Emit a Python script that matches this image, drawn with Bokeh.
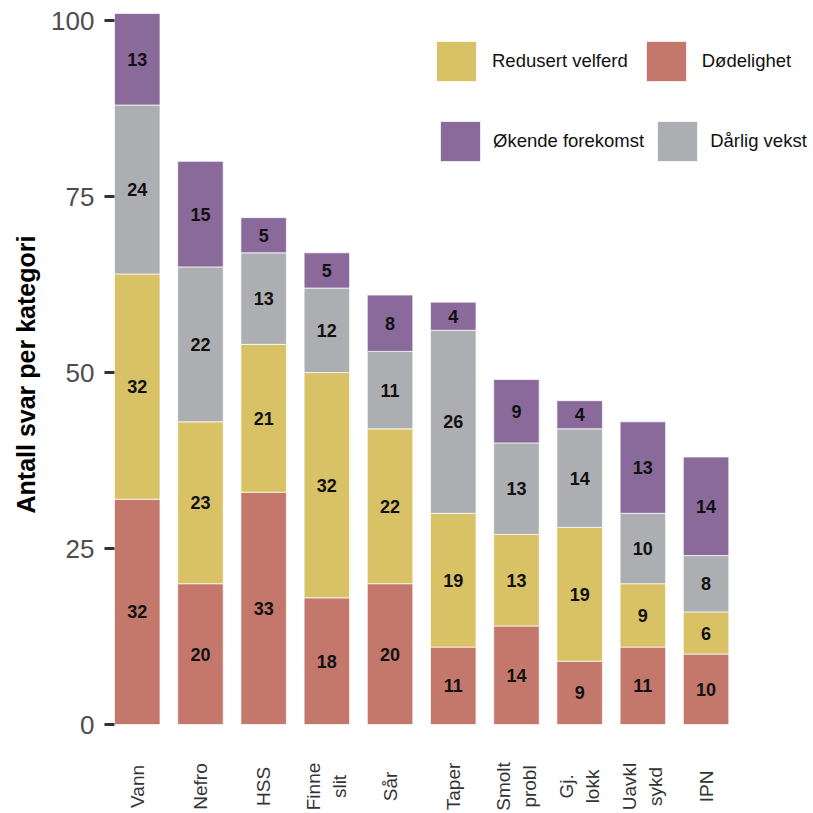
import numpy as np
from bokeh.plotting import figure
from bokeh.models import ColumnDataSource, Range1d, FixedTicker, Legend, LegendItem, Title
from bokeh.embed import file_html
from bokeh.resources import INLINE
from bokeh.core.properties import value

categories = ["Vann", "Nefro", "HSS", "Finne\nslit", "Sår", "Taper",
              "Smolt\nprobl", "Gj.\nlokk", "Uavkl\nsykd", "IPN"]
dodelighet = [32, 20, 33, 18, 20, 11, 14, 9, 11, 10]
redusert_velferd = [32, 23, 21, 32, 22, 19, 13, 19, 9, 6]
darlig_vekst = [24, 22, 13, 12, 11, 26, 13, 14, 10, 8]
okende_forekomst = [13, 15, 5, 5, 8, 4, 9, 4, 13, 14]
y_ticks = [0, 25, 50, 75, 100]
y_title = "Antall svar per kategori"

series_names = ["Dødelighet", "Redusert velferd", "Dårlig vekst", "Økende forekomst"]
series_keys = ["d", "r", "g", "o"]
series_vals = [dodelighet, redusert_velferd, darlig_vekst, okende_forekomst]
colors = ["#C4786C", "#D9C266", "#ADAEB2", "#896A9B"]

FONT = "Liberation Sans"
x = list(range(1, len(categories) + 1))
data = {"x": x}
for k, v in zip(series_keys, series_vals):
    data[k] = v
src = ColumnDataSource(data)

p = figure(width=813, height=813, output_backend="svg", toolbar_location=None,
           x_range=Range1d(0.64, 11.70), y_range=Range1d(-12.64, 101),
           min_border_left=114, min_border_right=0, min_border_top=13,
           min_border_bottom=0)
p.outline_line_color = None
p.grid.visible = False
p.background_fill_color = "white"
p.xaxis.visible = False

rs = p.vbar_stack(series_keys, x="x", width=0.72, source=src, color=colors,
                  line_color="white", line_alpha=0.7, line_width=1)

# segment labels
tx, ty, tt = [], [], []
cum = np.zeros(len(categories))
for v in series_vals:
    arr = np.array(v, dtype=float)
    for i in range(len(categories)):
        tx.append(x[i])
        ty.append(cum[i] + arr[i] / 2)
        tt.append(str(v[i]))
    cum += arr
p.text(x=tx, y=ty, text=tt, text_align="center", text_baseline="middle",
       text_font=value(FONT), text_font_size="18px", text_font_style="bold",
       text_color="#111111")

# category labels below the bars (centred, rotated)
p.text(x=x, y=[-8.8] * len(x), text=categories, angle=np.pi / 2,
       text_align="center", text_baseline="middle",
       text_font=value(FONT), text_font_size="19px", text_color="#333333",
       text_line_height=1.25)

# y axis
p.yaxis.ticker = FixedTicker(ticks=y_ticks)
p.yaxis.axis_line_color = None
p.yaxis.major_tick_out = 10
p.yaxis.major_tick_in = 0
p.yaxis.major_tick_line_width = 3
p.yaxis.major_tick_line_color = "#333333"
p.yaxis.minor_tick_line_color = None
p.yaxis.major_label_text_font = FONT
p.yaxis.major_label_text_font_size = "26px"
p.yaxis.major_label_text_color = "#4D4D4D"
p.yaxis.major_label_standoff = 10

# y axis title, placed so that it is centred on the 0..101 span
p.add_layout(Title(text=y_title, align="left", offset=300, standoff=18,
                   text_font=FONT, text_font_size="25px",
                   text_font_style="bold", text_color="#000000"), "left")

name_to_r = dict(zip(series_names, rs))

def make_legend(names, loc, standoff, spacing):
    leg = Legend(items=[LegendItem(label=n, renderers=[name_to_r[n]]) for n in names],
                 orientation="horizontal", location=loc,
                 glyph_width=50, glyph_height=50, label_standoff=standoff,
                 spacing=spacing, padding=0, margin=0,
                 border_line_color=None, background_fill_alpha=0,
                 label_text_font=FONT, label_text_font_size="18.5px",
                 label_text_color="#111111", label_height=50)
    p.add_layout(leg, "center")

make_legend(["Redusert velferd", "Dødelighet"], (317, 727), 11, 13)
make_legend(["Økende forekomst", "Dårlig vekst"], (321, 647), 8, 8)

open("out.html", "w").write(file_html(p, INLINE))
